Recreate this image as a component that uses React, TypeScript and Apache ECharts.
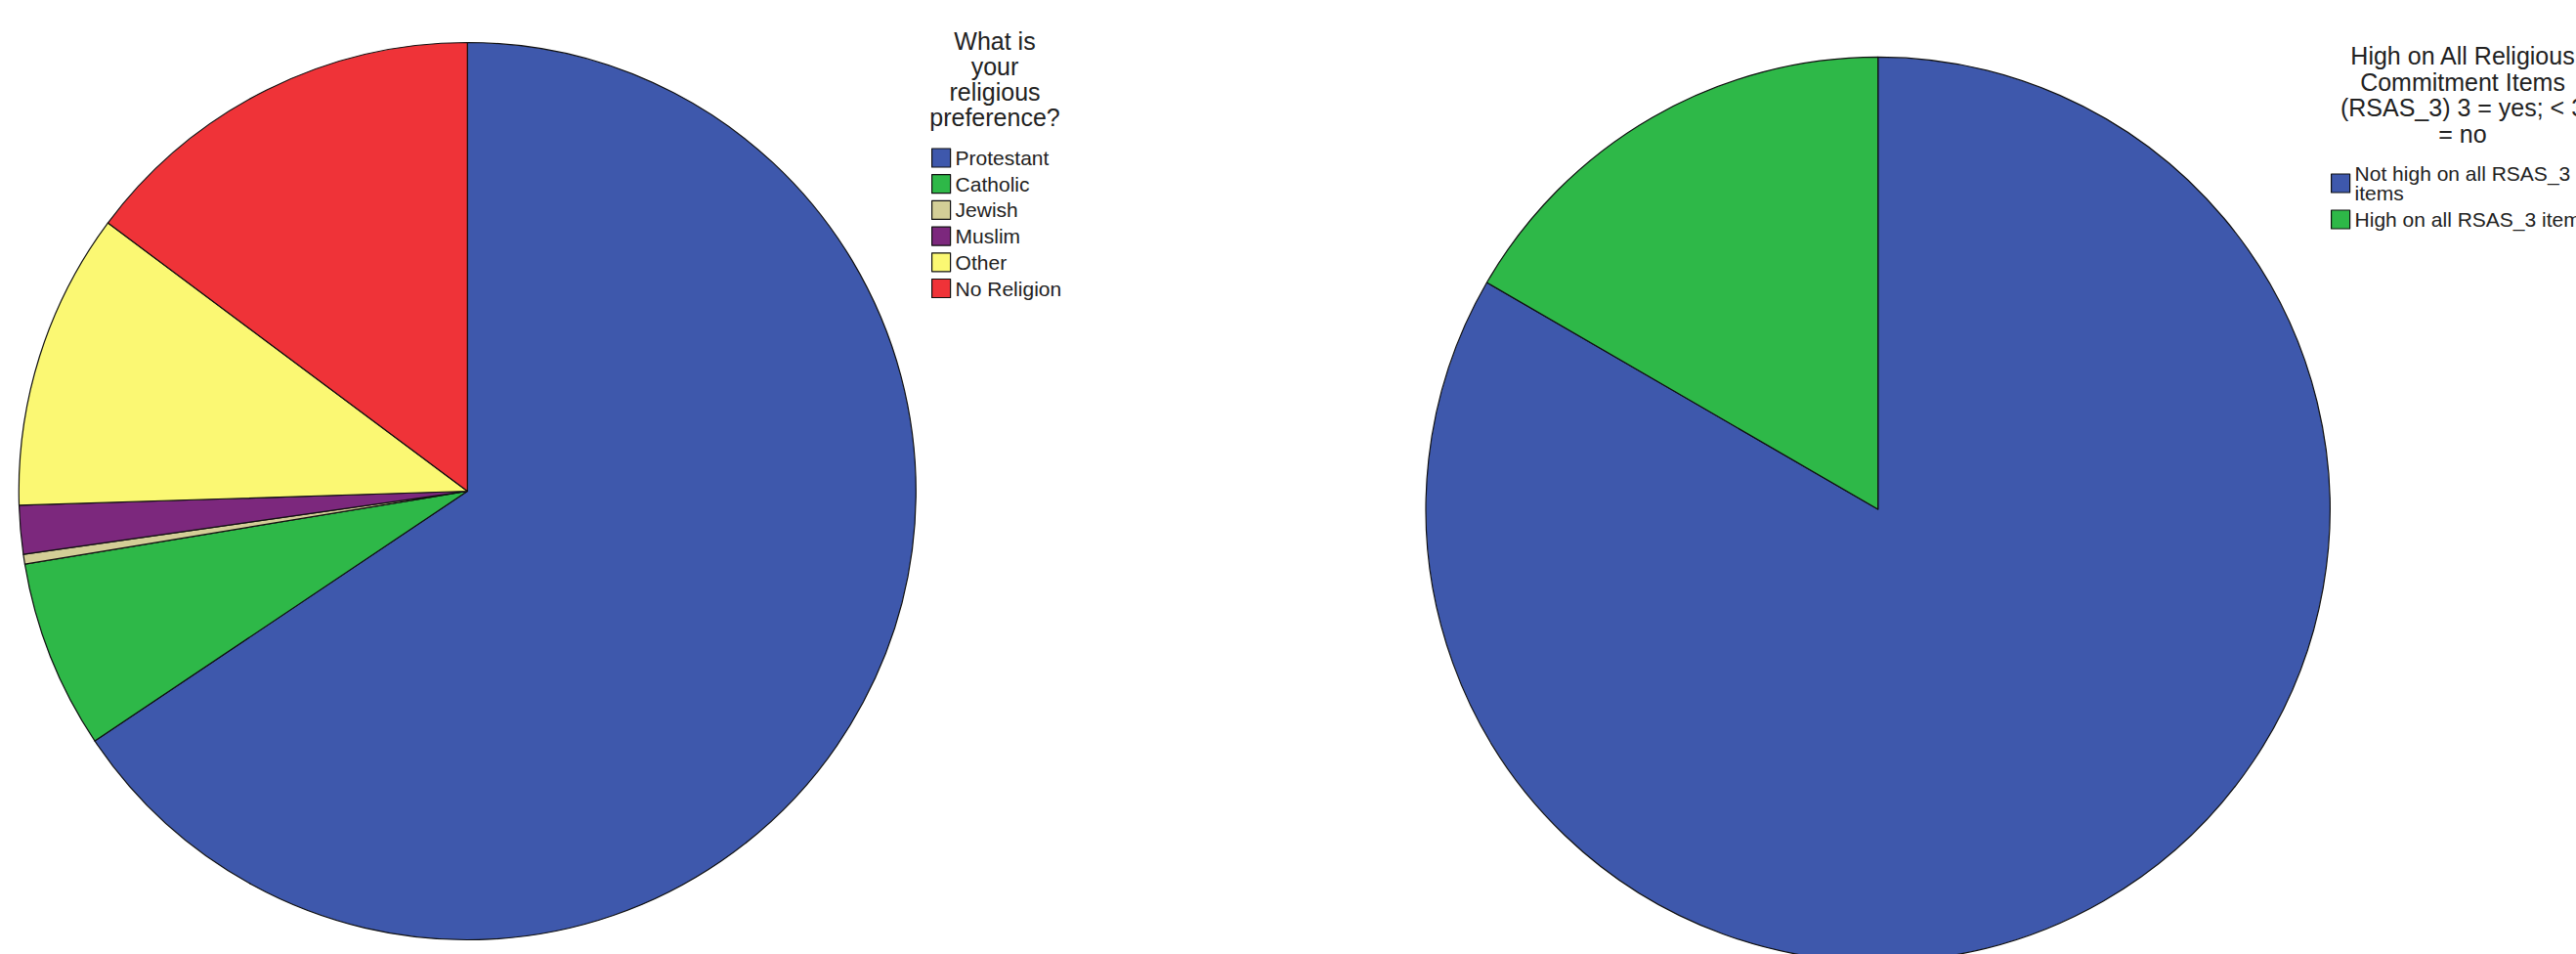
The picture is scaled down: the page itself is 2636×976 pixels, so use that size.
import React, { useEffect, useRef } from "react";
import * as echarts from "echarts";

const religionCategories = ["Protestant", "Catholic", "Jewish", "Muslim", "Other", "No Religion"];
const religionValues = [65.6, 6.8, 0.35, 1.75, 10.7, 14.8];
const religionColors = ["#3E58AC", "#2EB848", "#D3CE97", "#7C287D", "#FBF873", "#EF3338"];
const religionTitle = "What is\nyour\nreligious\npreference?";

const commitmentCategories = ["Not high on all RSAS_3 items", "High on all RSAS_3 items"];
const commitmentValues = [83.36, 16.64];
const commitmentColors = ["#3E58AC", "#2EB848"];
const commitmentTitle = "High on All Religious\nCommitment Items\n(RSAS_3) 3 = yes; < 3\n= no";

const FONT = "'Liberation Sans', Arial, Helvetica, sans-serif";
const TEXT_COLOR = "#222";

export default function App() {
  const ref = useRef<HTMLDivElement>(null);

  useEffect(() => {
    if (!ref.current) return;
    const chart = echarts.init(ref.current, undefined, { renderer: "svg" });
    const pieBase = {
      type: "pie" as const,
      startAngle: 90,
      clockwise: true,
      avoidLabelOverlap: false,
      label: { show: false },
      labelLine: { show: false },
      emphasis: { disabled: true },
      silent: true,
      itemStyle: { borderColor: "#111", borderWidth: 1.2 },
    };
    chart.setOption({
      animation: false,
      backgroundColor: "#ffffff",
      title: [
        {
          text: religionTitle,
          left: 1018,
          top: 29,
          textAlign: "center",
          padding: 0,
          textStyle: { fontFamily: FONT, fontSize: 25, fontWeight: "normal", color: TEXT_COLOR, lineHeight: 26 },
        },
        {
          text: commitmentTitle,
          left: 2520,
          top: 44,
          textAlign: "center",
          padding: 0,
          textStyle: { fontFamily: FONT, fontSize: 25, fontWeight: "normal", color: TEXT_COLOR, lineHeight: 26.5 },
        },
      ],
      legend: [
        {
          data: religionCategories,
          orient: "vertical",
          left: 953,
          top: 151,
          padding: 0,
          itemWidth: 19,
          itemHeight: 19,
          itemGap: 5.7,
          icon: "rect",
          selectedMode: false,
          itemStyle: { borderColor: "#111", borderWidth: 1.2 },
          textStyle: { fontFamily: FONT, fontSize: 21, color: TEXT_COLOR, lineHeight: 20 },
        },
        {
          data: commitmentCategories,
          orient: "vertical",
          left: 2385,
          top: 167,
          padding: 0,
          itemWidth: 19,
          itemHeight: 19,
          itemGap: 6,
          icon: "rect",
          selectedMode: false,
          itemStyle: { borderColor: "#111", borderWidth: 1.2 },
          formatter: (name: string) => (name === "Not high on all RSAS_3 items" ? "Not high on all RSAS_3\nitems" : name),
          textStyle: { fontFamily: FONT, fontSize: 21, color: TEXT_COLOR, lineHeight: 20 },
        },
      ],
      series: [
        {
          ...pieBase,
          name: "religion",
          center: [478.3, 502.5],
          radius: 459,
          data: religionCategories.map((n, i) => ({
            name: n,
            value: religionValues[i],
            itemStyle: { color: religionColors[i] },
          })),
        },
        {
          ...pieBase,
          name: "commitment",
          center: [1921.7, 521],
          radius: 462.6,
          data: commitmentCategories.map((n, i) => ({
            name: n,
            value: commitmentValues[i],
            itemStyle: { color: commitmentColors[i] },
          })),
        },
      ],
    });
    return () => chart.dispose();
  }, []);

  return (
    <div
      ref={ref}
      style={{ position: "fixed", left: 0, top: 0, width: 2636, height: 976, background: "#fff" }}
    />
  );
}
